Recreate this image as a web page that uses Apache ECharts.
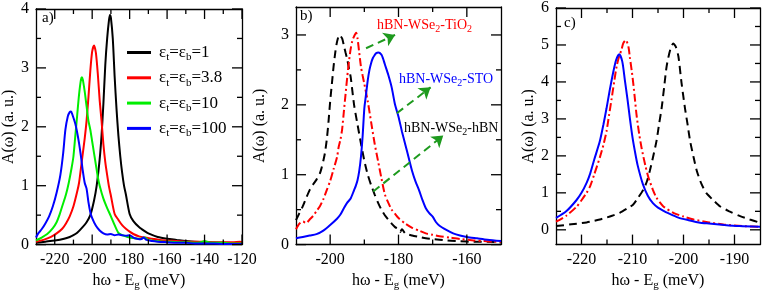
<!DOCTYPE html>
<html><head><meta charset="utf-8">
<script src="https://cdn.jsdelivr.net/npm/echarts@6/dist/echarts.min.js"></script>
<style>html,body{margin:0;padding:0;background:#fff}#c{width:763px;height:296px}</style>
</head><body><div id="c"></div>
<script>
// ---------- Panel a data ----------
const aNames = ['1', '3.8', '10', '100'];
const aX1 = [-230,-225,-220,-215,-212,-210,-208,-205,-203,-201,-199,-197.6,-196,-195,-194,-193,-192,-191,-190.5,-190,-189,-188,-187,-186,-185,-184,-183,-182,-180,-178,-175,-172,-170,-165,-160,-155,-150,-140,-130,-120];
const aY1 = [0.03,0.05,0.07,0.1,0.13,0.16,0.2,0.3,0.38,0.5,0.75,1.0,1.45,1.85,2.4,3.05,3.5,3.82,3.9,3.85,3.5,2.85,2.3,1.85,1.5,1.22,1.0,0.85,0.52,0.4,0.3,0.23,0.19,0.13,0.1,0.08,0.06,0.04,0.03,0.02];
const aX2 = [-230,-226,-222,-219,-216,-214,-212,-210,-208,-207,-206,-205,-204,-203,-202,-201,-200,-199,-198,-197,-196,-195,-194,-193,-192,-191,-190,-188,-186,-184,-182,-180,-178,-175,-172,-168,-164,-160,-155,-150,-145,-140,-135,-130,-125,-121,-120];
const aY2 = [0.05,0.08,0.13,0.19,0.27,0.36,0.48,0.65,0.9,1.05,1.3,1.55,1.8,2.1,2.5,2.95,3.28,3.38,3.25,2.9,2.45,2.1,1.7,1.4,1.18,0.98,0.83,0.52,0.42,0.33,0.27,0.22,0.18,0.14,0.12,0.1,0.08,0.07,0.06,0.05,0.05,0.05,0.04,0.04,0.04,0.05,0.04];
const aX3 = [-230,-227,-224,-221,-219,-217.5,-216,-214,-212.5,-211,-210,-209,-208,-207,-206,-205.5,-205,-204,-203,-202,-201,-200,-199,-198,-197,-196,-194,-192,-190,-188,-186,-184,-182,-180,-178,-176,-174,-172,-170,-166,-162,-158,-154,-150,-145,-142,-140,-138,-135,-130,-125,-120];
const aY3 = [0.07,0.12,0.18,0.28,0.38,0.5,0.65,0.85,1.05,1.3,1.5,1.85,2.2,2.55,2.8,2.84,2.8,2.6,2.35,2.1,1.95,1.75,1.55,1.35,1.15,1.0,0.78,0.62,0.48,0.33,0.2,0.16,0.14,0.12,0.11,0.1,0.1,0.12,0.08,0.06,0.05,0.05,0.04,0.04,0.03,0.04,0.06,0.04,0.03,0.03,0.02,0.02];
const aX4 = [-230,-228.8,-227,-225,-223,-221,-219,-217,-215.5,-214.3,-213,-212,-211.3,-210.5,-209,-208,-207,-206,-205,-204,-203,-202,-201,-200,-198,-196,-194,-192,-190,-188,-186,-184,-182,-180,-178,-176,-174,-172.5,-171,-168,-165,-160,-155,-150,-145,-140,-135,-130,-125,-120];
const aY4 = [0.12,0.19,0.26,0.36,0.48,0.65,0.88,1.18,1.55,1.95,2.18,2.25,2.26,2.2,2.05,1.9,1.72,1.5,1.25,1.05,0.95,0.72,0.55,0.45,0.32,0.24,0.19,0.17,0.18,0.16,0.17,0.16,0.15,0.16,0.12,0.1,0.09,0.12,0.08,0.06,0.05,0.04,0.03,0.03,0.02,0.02,0.02,0.01,0.01,0.01];
const aXTicks = [-220,-200,-180,-160,-140,-120];
const aXMinor = [-210,-190,-170,-150,-130];
const aYTicks = [0,1,2,3,4];
const aYMinor = [0.5,1.5,2.5,3.5];

// ---------- Panel b data ----------
const bXBlack = [-210,-209,-208,-207,-206,-205,-204,-203,-202.5,-202,-201.5,-201,-200.5,-200,-199.5,-199,-198.5,-198,-197.3,-196.5,-196,-195.5,-195,-194.5,-194,-193,-192,-191,-190,-189,-188,-187,-186,-185,-184,-183,-182,-181,-180,-179.5,-179,-178,-176,-174,-172,-170,-166,-162,-158,-154,-150];
const bYBlack = [0.35,0.45,0.55,0.67,0.78,0.86,0.93,1.02,1.1,1.2,1.32,1.5,1.75,2.05,2.3,2.55,2.75,2.9,3.0,2.95,2.85,2.75,2.65,2.52,2.4,2.0,1.72,1.45,1.2,1.0,0.85,0.72,0.6,0.5,0.42,0.36,0.3,0.25,0.22,0.18,0.22,0.16,0.13,0.11,0.09,0.08,0.06,0.05,0.04,0.04,0.03];
const bXRed = [-210,-209,-208,-207,-206,-205,-204,-203,-202,-201,-200,-199,-198,-197.5,-197,-196.5,-196,-195.5,-195,-194.5,-194,-193.5,-193,-192.4,-192,-191.5,-191,-190.5,-190,-189,-188,-187,-186,-185,-184,-183,-182,-181,-180,-178,-176,-174,-172,-170,-168,-165,-162,-158,-155,-152,-150];
const bYRed = [0.22,0.3,0.33,0.31,0.36,0.41,0.48,0.55,0.65,0.78,0.91,1.08,1.25,1.4,1.5,1.65,1.9,2.15,2.4,2.62,2.8,2.92,2.98,3.03,2.95,2.75,2.55,2.42,2.3,2.05,1.75,1.45,1.2,0.95,0.72,0.6,0.5,0.44,0.38,0.3,0.24,0.2,0.16,0.14,0.12,0.1,0.08,0.06,0.05,0.04,0.04];
const bXBlue = [-210,-208,-206,-204,-202,-200,-198,-197,-196,-195,-194,-193,-192.5,-192,-191.5,-191,-190.5,-190,-189.5,-189,-188.5,-188,-187.5,-187,-186.5,-185.9,-185,-184.5,-184,-183,-182,-181,-180,-179,-178,-177,-176,-175,-174,-173,-172,-171,-170,-169,-168,-166,-164,-162,-160,-157,-154,-150];
const bYBlue = [0.09,0.11,0.13,0.15,0.2,0.28,0.37,0.43,0.52,0.6,0.66,0.78,0.84,0.92,1.05,1.25,1.55,1.95,2.15,2.35,2.5,2.6,2.67,2.71,2.74,2.75,2.72,2.66,2.58,2.43,2.25,2.0,1.83,1.62,1.43,1.24,1.05,0.9,0.78,0.64,0.52,0.45,0.4,0.32,0.27,0.21,0.16,0.13,0.11,0.09,0.07,0.05];
const bArrows = [[-189.5,2.81,-181.0,3.0],[-180.5,1.88,-170.6,2.25],[-187.4,0.76,-166.9,1.56]];
const bXTicks = [-200,-180,-160];
const bXMinor = [-190,-170];
const bYTicks = [0,1,2,3];
const bYMinor = [0.5,1.5,2.5];

// ---------- Panel c data ----------
const cXBlue = [-225,-223,-221,-220,-219,-218.3,-217.5,-216.4,-215.7,-215.1,-214.5,-213.8,-213.2,-212.6,-212,-211.5,-211,-210.5,-210,-209.5,-209,-208,-207,-206,-205,-204,-203,-201,-199,-197,-195,-192,-189,-185];
const cYBlue = [0.32,0.5,0.8,1.0,1.27,1.52,1.9,2.4,2.85,3.28,3.75,4.25,4.6,4.75,4.55,4.05,3.55,3.0,2.5,2.1,1.75,1.25,0.92,0.72,0.6,0.52,0.45,0.33,0.26,0.2,0.17,0.13,0.1,0.08];
const cXRed = [-225,-223,-221,-220,-219,-218.3,-217.5,-216.4,-215.7,-215.1,-214.6,-214.1,-213.6,-213.1,-212.6,-212.2,-211.8,-211.3,-210.8,-210.5,-210.1,-209.8,-209.5,-209.2,-208.7,-208.2,-207.5,-206.9,-206,-205.3,-204,-202,-200,-198,-195,-192,-188,-185];
const cYRed = [0.22,0.38,0.62,0.8,1.0,1.18,1.5,1.96,2.3,2.66,3.1,3.54,4.0,4.43,4.7,4.85,5.05,5.13,4.95,4.65,4.25,3.9,3.5,3.1,2.6,2.2,1.75,1.43,1.08,0.87,0.64,0.46,0.36,0.28,0.2,0.14,0.1,0.08];
const cXBlack = [-225,-222,-219,-216.4,-214,-212.5,-211,-209.9,-209,-207.9,-207.2,-206.6,-206,-205.3,-204.8,-204.3,-203.8,-203.3,-202.6,-202,-201.5,-201,-200.4,-199.7,-199.2,-198.7,-198,-197.4,-196.5,-195.5,-194,-192.8,-191,-188.9,-187,-185];
const cYBlack = [0.1,0.15,0.2,0.28,0.38,0.46,0.58,0.68,0.85,1.08,1.3,1.6,1.95,2.4,2.85,3.28,3.85,4.43,4.87,5.04,4.95,4.69,3.99,3.28,2.85,2.4,1.95,1.6,1.25,0.99,0.78,0.63,0.5,0.37,0.28,0.19];
const cXTicks = [-220,-210,-200,-190];
const cXMinor = [-215,-205,-195];
const cYTicks = [0,1,2,3,4,5,6];
const cYMinor = [0.5,1.5,2.5,3.5,4.5,5.5];

// ---------- rendering ----------
const FONT = 'Liberation Serif';
const MAJOR_LEN = 10, MINOR_LEN = 5;
const zip = (xs, ys) => xs.map((x, i) => [x, ys[i]]);
const subRich = (fs) => ({
  m: {fontFamily: FONT, fontSize: fs, color: '#000'},
  s: {fontFamily: FONT, fontSize: Math.round(fs * 0.68), color: '#000', padding: [Math.round(fs * 0.6), 0, 0, 0]}
});

function axis(gridIndex, min, max, position, labelVals) {
  return {
    type: 'value', gridIndex, min, max, position,
    axisLine: {show: true, onZero: false, lineStyle: {color: '#000', width: 1.3}},
    splitLine: {show: false},
    axisTick: {show: false},
    axisLabel: labelVals ? {show: true, customValues: labelVals, hideOverlap: false, showMinLabel: true, showMaxLabel: true,
                            fontFamily: FONT, fontSize: 16, color: '#000', margin: 7} : {show: false}
  };
}

const xName = '{m|hω - E}{s|g}{m| (meV)}';
const yName = 'A(ω) (a. u.)';
const grids = [
  {left: 36, top: 9, width: 206, height: 239},
  {left: 296, top: 7, width: 205, height: 241},
  {left: 556, top: 7, width: 204, height: 242}
];
const yGaps = [19, 28, 19];
const xDefs = [[-230,-120,aXTicks,aXMinor],[-210,-150,bXTicks,bXMinor],[-225,-185,cXTicks,cXMinor]];
const yDefs = [[0,4,aYTicks,aYMinor],[0,3.4,bYTicks,bYMinor],[-0.4,6,cYTicks,cYMinor]];
const xAxes = [], yAxes = [];
for (let p = 0; p < 3; p++) {
  const [x0, x1, xt] = xDefs[p];
  const xb = axis(p, x0, x1, 'bottom', xt);
  xb.name = xName; xb.nameLocation = 'middle'; xb.nameGap = 22;
  xb.nameTextStyle = {fontFamily: FONT, fontSize: 16, color: '#000', verticalAlign: 'top', rich: subRich(16)};
  xAxes.push(xb, axis(p, x0, x1, 'top', null));
  const [y0, y1, yt] = yDefs[p];
  const yl = axis(p, y0, y1, 'left', yt);
  yl.name = yName; yl.nameLocation = 'middle'; yl.nameGap = yGaps[p];
  yl.nameTextStyle = {fontFamily: FONT, fontSize: 16, color: '#000', verticalAlign: 'bottom'};
  yAxes.push(yl, axis(p, y0, y1, 'right', null));
}

const line = (name, p, xs, ys, color, type) => ({
  type: 'line', name, xAxisIndex: p * 2, yAxisIndex: p * 2, data: zip(xs, ys),
  showSymbol: false, symbol: 'none', smooth: 0.25, color,
  lineStyle: {color, width: 2, type: type || 'solid'}, animation: false, z: 3
});
const aColors = ['#000000', '#ff0000', '#00ee00', '#0000ff'];
const aXs = [aX1, aX2, aX3, aX4], aYs = [aY1, aY2, aY3, aY4];
const aSeriesNames = aNames.map(n => 'εt=εb=' + n);
const series = [];
aNames.forEach((n, i) => series.push(line(aSeriesNames[i], 0, aXs[i], aYs[i], aColors[i])));
series.push(line('hBN', 1, bXBlack, bYBlack, '#000000', [8, 5]));
series.push(line('TiO2', 1, bXRed, bYRed, '#ff0000', [8, 3, 2, 3]));
series.push(line('STO', 1, bXBlue, bYBlue, '#0000ff'));
series.push(line('c-black', 2, cXBlack, cYBlack, '#000000', [8, 5]));
series.push(line('c-red', 2, cXRed, cYRed, '#ff0000', [8, 3, 2, 3]));
series.push(line('c-blue', 2, cXBlue, cYBlue, '#0000ff'));
series.push({
  type: 'lines', coordinateSystem: 'cartesian2d', xAxisIndex: 2, yAxisIndex: 2,
  symbol: ['none', 'arrow'], symbolSize: 11, animation: false, z: 4,
  lineStyle: {color: '#1e9a1e', width: 2, type: [8, 5], opacity: 1, curveness: 0},
  data: bArrows.map(a => ({coords: [[a[0], a[1]], [a[2], a[3]]]}))
});

const legRich = {
  e0: {fontFamily: FONT, fontSize: 17, color: '#000', padding: [0, 0, 0, 3], lineHeight: 20},
  e: {fontFamily: FONT, fontSize: 17, color: '#000', lineHeight: 20},
  s: {fontFamily: FONT, fontSize: 11, color: '#000', padding: [10, 0, 0, 0], lineHeight: 20}
};
const annRich = (color) => ({
  m: {fontFamily: FONT, fontSize: 14, color},
  s: {fontFamily: FONT, fontSize: 10, color, padding: [9, 0, 0, 0]}
});
const txt = (x, y, t, color, rich, fs) => ({
  type: 'text', left: x, top: y, z: 10,
  style: {text: t, fill: color, font: (fs || 15) + 'px ' + FONT, rich}
});
const texts = [
  txt(42, 11, 'a)', '#000'),
  txt(300, 9, 'b)', '#000'),
  txt(564, 16, 'c)', '#000'),
  txt(377, 18, '{m|hBN-WSe}{s|2}{m|-TiO}{s|2}', '#ff0000', annRich('#ff0000')),
  txt(399, 72, '{m|hBN-WSe}{s|2}{m|-STO}', '#0000ff', annRich('#0000ff')),
  txt(404, 121, '{m|hBN-WSe}{s|2}{m|-hBN}', '#000000', annRich('#000000'))
];

const chart = echarts.init(document.getElementById('c'), null, {renderer: 'canvas'});
chart.setOption({
  animation: false,
  backgroundColor: '#fff',
  grid: grids,
  xAxis: xAxes,
  yAxis: yAxes,
  legend: {
    data: aSeriesNames, orient: 'vertical', left: 122, top: 37,
    itemWidth: 24, itemHeight: 3, icon: 'rect', itemGap: 4.3, selectedMode: false,
    formatter: (name) => {
      const v = name.split('=')[2];
      return '{e0|ε}{s|t}{e|=ε}{s|b}{e|=' + v + '}';
    },
    textStyle: {fontFamily: FONT, fontSize: 17, color: '#000', rich: legRich}
  },
  graphic: texts,
  series
});

// inward ticks on all four sides, positioned through the axes' own scales
const tickEls = [];
const st = {stroke: '#000', lineWidth: 1.3};
const seg = (x1, y1, x2, y2) => ({type: 'line', z: 20, silent: true, shape: {x1, y1, x2, y2}, style: st});
for (let p = 0; p < 3; p++) {
  const finder = {xAxisIndex: 2 * p, yAxisIndex: 2 * p};
  const [x0, x1, xt, xm] = xDefs[p];
  const [y0, y1, yt, ym] = yDefs[p];
  const xTick = (v, len) => {
    const b = chart.convertToPixel(finder, [v, y0]), t = chart.convertToPixel(finder, [v, y1]);
    tickEls.push(seg(b[0], b[1], b[0], b[1] - len), seg(t[0], t[1], t[0], t[1] + len));
  };
  const yTick = (v, len) => {
    const l = chart.convertToPixel(finder, [x0, v]), r = chart.convertToPixel(finder, [x1, v]);
    tickEls.push(seg(l[0], l[1], l[0] + len, l[1]), seg(r[0], r[1], r[0] - len, r[1]));
  };
  xt.forEach(v => xTick(v, MAJOR_LEN));
  xm.forEach(v => xTick(v, MINOR_LEN));
  yt.forEach(v => yTick(v, MAJOR_LEN));
  ym.forEach(v => yTick(v, MINOR_LEN));
}
chart.setOption({graphic: texts.concat(tickEls)});
</script></body></html>
